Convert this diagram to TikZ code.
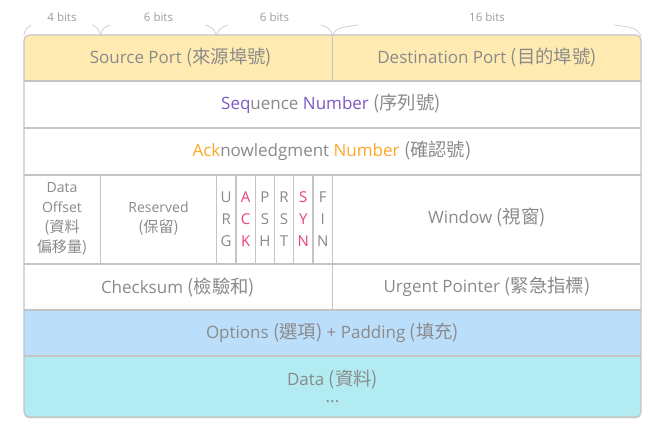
\documentclass[tikz,border=0pt]{standalone}
\usepackage{fontspec}
\setmainfont{Open Sans}
\newfontfamily\cjk[Scale=1.08]{Noto Sans CJK TC}
\usetikzlibrary{shadows}
\definecolor{txt}{HTML}{8A8A8A}
\definecolor{linec}{HTML}{C4C4C4}
\definecolor{yel}{HTML}{FFEBB2}
\definecolor{blu}{HTML}{BBDEFB}
\definecolor{cya}{HTML}{B2EBF2}
\definecolor{purp}{HTML}{7E57C2}
\definecolor{oran}{HTML}{FFA726}
\definecolor{pnk}{HTML}{EC407A}
\definecolor{brace}{HTML}{D0D0D0}
\newcommand\zh[1]{{\cjk #1}}
\begin{document}
\begin{tikzpicture}[x=1pt,y=-1pt,
  grid/.style={draw=linec,line width=1.1pt},
  lbl/.style={text=txt,font=\fontsize{17}{20}\selectfont,inner sep=0pt},
  small/.style={text=txt,font=\fontsize{14}{20}\selectfont,inner sep=0pt,align=center},
  flag/.style={text=txt,font=\fontsize{15}{21.8}\selectfont,inner sep=0pt,align=center},
  bits/.style={text=txt!85,font=\fontsize{11.5}{13}\selectfont,inner sep=0pt},
  brc/.style={draw=brace,line width=0.8pt}]
\useasboundingbox (0,0) rectangle (665,446);
% outer frame with shadow
\fill[white,rounded corners=5pt,drop shadow={opacity=0.35,shadow xshift=0pt,shadow yshift=-1.5pt}] (24,35) rectangle (641,417);
\begin{scope}
\clip[rounded corners=5pt] (24,35) rectangle (641,417);
\fill[yel] (24,35) rectangle (641,81);
\fill[blu] (24,310) rectangle (641,356);
\fill[cya] (24,356) rectangle (641,417);
\end{scope}
% horizontal lines
\foreach \y in {81,128,175,264,310,356} \draw[grid] (24,\y) -- (641,\y);
% vertical lines
\draw[grid] (332.5,35) -- (332.5,81);
\foreach \x in {100.5,216.5,236,255.5,274.5,293.5,313,332.5} \draw[grid] (\x,175) -- (\x,264);
\draw[grid] (332.5,264) -- (332.5,310);
\draw[grid,rounded corners=5pt] (24,35) rectangle (641,417);
% braces
\draw[brc] (24,35) .. controls (25,30) .. (31,25);
\draw[brc] (92,25) .. controls (98,28) .. (100.5,35) .. controls (103,28) .. (110,25);
\draw[brc] (205,25) .. controls (213,28) .. (216.5,35) .. controls (220,28) .. (228,25);
\draw[brc] (321,25) .. controls (329,28) .. (332.5,35) .. controls (337,28) .. (358,25);
\draw[brc] (614,25) .. controls (636,28) .. (641,36);
\node[bits] (b4) at (62,17) {4 bits};
\node[bits] (b6a) at (158.5,17) {6 bits};
\node[bits] (b6b) at (274.5,17) {6 bits};
\node[bits] (b16) at (487,17) {16 bits};
% labels
\node[lbl] (sp) at (181,58) {Source Port \zh{(來源埠號)}};
\node[lbl] (dp) at (487,58) {Destination Port \zh{(目的埠號)}};
\node[lbl] (seq) at (331,104) {\textcolor{purp}{Seq}uence \textcolor{purp}{Number} \zh{(序列號)}};
\node[lbl] (ack) at (332,151) {\textcolor{oran}{Ack}nowledgment \textcolor{oran}{Number} \zh{(確認號)}};
\node[small] (doff) at (62,219) {Data\\Offset\\\zh{(資料}\\\zh{偏移量)}};
\node[small] (res) at (158.5,219) {Reserved\\\zh{(保留)}};
\node[flag] (urg) at (226.2,219) {U\\R\\G};
\node[flag,text=pnk] (ackf) at (245.7,219) {A\\C\\K};
\node[flag] (psh) at (265,219) {P\\S\\H};
\node[flag] (rst) at (284,219) {R\\S\\T};
\node[flag,text=pnk] (syn) at (303.2,219) {S\\Y\\N};
\node[flag] (fin) at (322.7,219) {F\\I\\N};
\node[lbl] (win) at (487,218) {Window \zh{(視窗)}};
\node[lbl] (chk) at (178,287) {Checksum \zh{(檢驗和)}};
\node[lbl] (urp) at (487,287) {Urgent Pointer \zh{(緊急指標)}};
\node[lbl] (opt) at (332.5,333) {Options \zh{(選項)} + Padding \zh{(填充)}};
\node[lbl] (dat) at (332.5,380) {Data \zh{(資料)}};
\node[lbl] (dots) at (332.5,402) {...};
\end{tikzpicture}
\end{document}
